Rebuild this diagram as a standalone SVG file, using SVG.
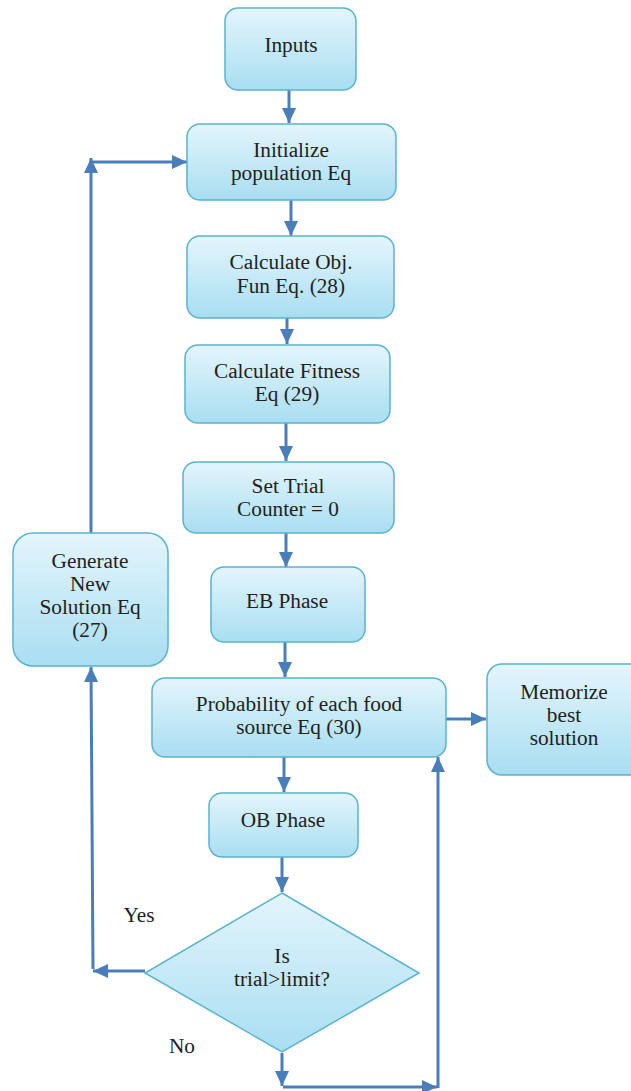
<svg xmlns="http://www.w3.org/2000/svg" width="631" height="1091" viewBox="0 0 631 1091">
<style>
.box{fill:url(#g);stroke:#5ab3cf;stroke-width:1.5}
.t{font-family:"Liberation Serif","Times New Roman",serif;font-size:21.3px;fill:#231f20;text-anchor:middle}
.c{fill:none;stroke:#4a7ebb;stroke-width:3}
</style>
<defs>
<linearGradient id="g" x1="0" y1="0" x2="0" y2="1">
<stop offset="0" stop-color="#e4f5fc"/>
<stop offset="1" stop-color="#a8def1"/>
</linearGradient>
<marker id="a" markerUnits="userSpaceOnUse" markerWidth="16" markerHeight="16" viewBox="0 0 16 16" refX="15" refY="8" orient="auto">
<path d="M0,1 L15,8 L0,15 Z" fill="#4a7ebb"/>
</marker>
</defs>
<g id="connectors">
<path class="c" d="M289,90 V123" marker-end="url(#a)"/>
<path class="c" d="M291,200 V236" marker-end="url(#a)"/>
<path class="c" d="M287,318 V344" marker-end="url(#a)"/>
<path class="c" d="M286,423 V461" marker-end="url(#a)"/>
<path class="c" d="M286,533 V567" marker-end="url(#a)"/>
<path class="c" d="M285,642 V677" marker-end="url(#a)"/>
<path class="c" d="M284,757 V792" marker-end="url(#a)"/>
<path class="c" d="M282,857 V892" marker-end="url(#a)"/>
<path class="c" d="M446,719 H486" marker-end="url(#a)"/>
<path class="c" d="M145,971 H93" marker-end="url(#a)"/>
<path class="c" d="M93,969 L91,667" marker-end="url(#a)"/>
<path class="c" d="M91,533 V158" marker-end="url(#a)"/>
<path class="c" d="M91,162 H187" marker-end="url(#a)"/>
<path class="c" d="M282,1053 V1086" marker-end="url(#a)"/>
<path class="c" d="M283,1087 H437" marker-end="url(#a)"/>
<path class="c" d="M438,1088 V757" marker-end="url(#a)"/>
</g>
<g id="inputs"><rect class="box" x="225" y="8" width="131" height="82" rx="13"/><text class="t" x="291" y="52">Inputs</text></g>
<g id="init"><rect class="box" x="187" y="124" width="209" height="76" rx="13"/><text class="t" x="291" y="157">Initialize</text><text class="t" x="291" y="180">population Eq</text></g>
<g id="calcobj"><rect class="box" x="187" y="236" width="207" height="82" rx="13"/><text class="t" x="291" y="269">Calculate Obj.</text><text class="t" x="291" y="293">Fun Eq. (28)</text></g>
<g id="fitness"><rect class="box" x="185" y="345" width="205" height="78" rx="13"/><text class="t" x="287" y="378">Calculate Fitness</text><text class="t" x="287" y="401">Eq (29)</text></g>
<g id="settrial"><rect class="box" x="183" y="462" width="211" height="71" rx="13"/><text class="t" x="288" y="493">Set Trial</text><text class="t" x="288" y="516">Counter = 0</text></g>
<g id="eb"><rect class="box" x="211" y="567" width="154" height="75" rx="13"/><text class="t" x="287" y="608">EB Phase</text></g>
<g id="prob"><rect class="box" x="152" y="678" width="294" height="79" rx="13"/><text class="t" x="299" y="711">Probability of each food</text><text class="t" x="299" y="734">source Eq (30)</text></g>
<g id="memorize"><rect class="box" x="487" y="664" width="160" height="111" rx="15"/><text class="t" x="564" y="699">Memorize</text><text class="t" x="564" y="722">best</text><text class="t" x="564" y="745">solution</text></g>
<g id="ob"><rect class="box" x="209" y="793" width="149" height="64" rx="13"/><text class="t" x="283" y="827">OB Phase</text></g>
<g id="decision"><polygon class="box" points="282,893 419,973 282,1052 145,973"/><text class="t" x="282" y="963">Is</text><text class="t" x="282" y="986">trial&gt;limit?</text></g>
<g id="generate"><rect class="box" x="13" y="533" width="155" height="133" rx="20"/><text class="t" x="90" y="568">Generate</text><text class="t" x="90" y="591">New</text><text class="t" x="90" y="614">Solution Eq</text><text class="t" x="90" y="637">(27)</text></g>
<g id="labels"><text class="t" x="139" y="922">Yes</text><text class="t" x="182" y="1053">No</text></g>
</svg>
